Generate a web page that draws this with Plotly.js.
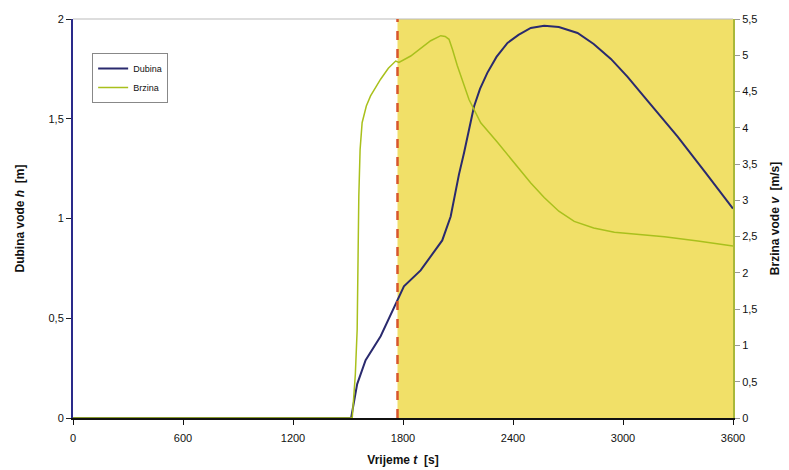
<!DOCTYPE html>
<html>
<head>
<meta charset="utf-8">
<script src="https://cdn.plot.ly/plotly-3.0.1.min.js"></script>
<style>html,body{margin:0;padding:0;background:#fff;}#chart{width:789px;height:470px;}</style>
</head>
<body>
<div id="chart"></div>
<script>
// Dubina vode h [m] vs time t [s]
const dubinaT = [0, 600, 1200, 1500, 1517, 1550, 1596, 1678, 1778, 1805, 1896, 1987, 2014, 2060, 2078, 2105, 2133, 2160, 2187, 2220, 2260, 2310, 2370, 2430, 2497, 2570, 2650, 2752, 2840, 2934, 3025, 3116, 3207, 3298, 3450, 3600];
const dubinaH = [0, 0, 0, 0, 0, 0.17, 0.29, 0.41, 0.61, 0.66, 0.74, 0.86, 0.89, 1.01, 1.10, 1.22, 1.33, 1.45, 1.56, 1.65, 1.73, 1.81, 1.88, 1.92, 1.955, 1.966, 1.96, 1.93, 1.875, 1.80, 1.71, 1.61, 1.51, 1.41, 1.23, 1.05];
// Brzina vode v [m/s] vs time t [s]
const brzinaT = [0, 600, 1200, 1500, 1523, 1540, 1550, 1559, 1566, 1577, 1600, 1623, 1678, 1720, 1760, 1778, 1842, 1951, 2006, 2030, 2051, 2070, 2096, 2160, 2224, 2315, 2406, 2497, 2570, 2650, 2734, 2840, 2953, 3226, 3408, 3600];
const brzinaV = [0, 0, 0, 0, 0, 0.6, 1.22, 3.06, 3.7, 4.07, 4.30, 4.44, 4.67, 4.82, 4.92, 4.90, 4.99, 5.20, 5.27, 5.26, 5.22, 5.08, 4.86, 4.39, 4.07, 3.80, 3.52, 3.24, 3.04, 2.85, 2.71, 2.62, 2.56, 2.50, 2.44, 2.37];
const xTicks = [0, 600, 1200, 1800, 2400, 3000, 3600];
const leftTicks = [0, 0.5, 1, 1.5, 2];
const rightTicks = [0, 0.5, 1, 1.5, 2, 2.5, 3, 3.5, 4, 4.5, 5, 5.5];
const markerTime = 1770;
const xMax = 3600;

const font = 'Liberation Sans, Arial, sans-serif';
const traces = [
  {x: dubinaT, y: dubinaH, name: 'Dubina', type: 'scatter', mode: 'lines',
   line: {color: '#2a2a6e', width: 2}, yaxis: 'y'},
  {x: brzinaT, y: brzinaV, name: 'Brzina', type: 'scatter', mode: 'lines',
   line: {color: '#a9c01c', width: 1.5}, yaxis: 'y2'}
];
const layout = {
  width: 789, height: 470,
  margin: {l: 73, r: 56, t: 19, b: 52},
  paper_bgcolor: '#ffffff', plot_bgcolor: '#ffffff',
  separators: ',.',
  font: {family: font, size: 11, color: '#111'},
  showlegend: true,
  legend: {x: 0.029, y: 0.915, xanchor: 'left', yanchor: 'top',
    bgcolor: '#ffffff', bordercolor: '#888', borderwidth: 1,
    font: {family: font, size: 9, color: '#111'}, tracegroupgap: 2},
  xaxis: {range: [0, xMax], tickvals: xTicks, ticktext: xTicks.map(String),
    showgrid: false, zeroline: false, showline: true, linecolor: '#111', linewidth: 2,
    ticks: 'outside', ticklen: 5, tickcolor: '#111', ticklabelstandoff: 4,
    tickfont: {family: font, size: 11, color: '#111'},
    title: {text: '<b>Vrijeme <i>t</i>  [s]</b>', font: {family: font, size: 12, color: '#111'}, standoff: 12}},
  yaxis: {range: [0, 2], tickvals: leftTicks,
    showgrid: false, zeroline: false, showline: true, linecolor: '#2a2a8a', linewidth: 2,
    ticks: 'outside', ticklen: 5, tickcolor: '#222',
    tickfont: {family: font, size: 11, color: '#111'},
    title: {text: '<b>Dubina vode <i>h</i>  [m]</b>', font: {family: font, size: 12, color: '#111'}, standoff: 21}},
  yaxis2: {range: [0, 5.5], tickvals: rightTicks, overlaying: 'y', side: 'right',
    showgrid: false, zeroline: false, showline: true, linecolor: '#a9b83a', linewidth: 2,
    ticks: 'outside', ticklen: 5, tickcolor: '#999',
    tickfont: {family: font, size: 11, color: '#111'},
    title: {text: '<b>Brzina vode <i>v</i>  [m/s]</b>', font: {family: font, size: 12, color: '#111'}, standoff: 14}},
  shapes: [
    {type: 'rect', xref: 'x', yref: 'paper', x0: markerTime, x1: xMax, y0: 0, y1: 1,
     fillcolor: '#f1e068', line: {width: 0}, layer: 'below'},
    {type: 'line', xref: 'paper', yref: 'paper', x0: 0, x1: 1, y0: 1, y1: 1,
     line: {color: '#bbbbbb', width: 1}},
    {type: 'line', xref: 'x', yref: 'paper', x0: markerTime, x1: markerTime, y0: 0, y1: 1,
     line: {color: '#d8552c', width: 2.5, dash: 'dash'}}
  ]
};
Plotly.newPlot('chart', traces, layout, {displayModeBar: false, staticPlot: true});
</script>
</body>
</html>
